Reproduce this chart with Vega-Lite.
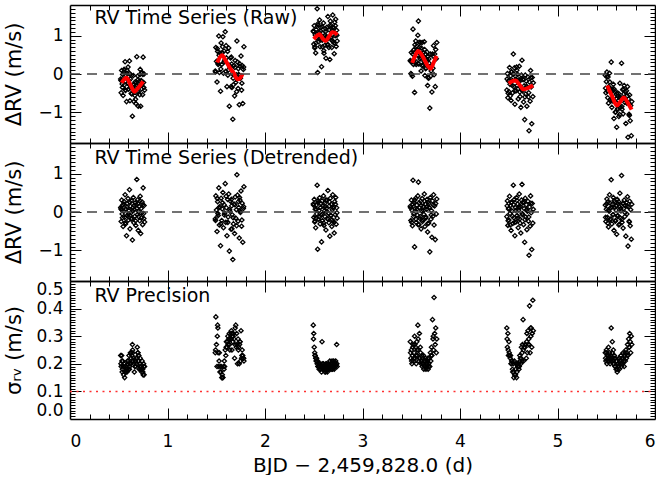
{
"$schema":"https://vega.github.io/schema/vega-lite/v6.json",
"usermeta":{"embedOptions":{"actions":false}},
"padding":{"left":3,"top":4,"right":0,"bottom":0},
"spacing":0,
"bounds":"flush",
"config":{"view":{"stroke":null},"font":"DejaVu Sans","axis":{"grid":false,"domainColor":"black","domainWidth":1.5,"tickColor":"black","tickWidth":1,"labelColor":"black","labelFont":"DejaVu Sans","labelFontSize":17,"titleFont":"DejaVu Sans","titleFontSize":21,"titleFontWeight":"normal","titleColor":"black","labelOverlap":false,"labelBound":false}},
"datasets":{
"obs":[
{"t":0.520,"r":-0.13,"d":0.12,"s":0.23},{"t":0.525,"r":-0.49,"d":-0.25,"s":0.19},{"t":0.530,"r":0.09,"d":0.31,"s":0.23},{"t":0.535,"r":-0.26,"d":-0.05,"s":0.17},{"t":0.540,"r":-0.01,"d":0.18,"s":0.21},{"t":0.545,"r":-0.56,"d":-0.38,"s":0.19},{"t":0.550,"r":-0.14,"d":0.02,"s":0.16},{"t":0.555,"r":0.12,"d":0.27,"s":0.20},{"t":0.560,"r":-0.28,"d":-0.14,"s":0.15},{"t":0.565,"r":0.32,"d":0.45,"s":0.17},
{"t":0.570,"r":-0.43,"d":-0.31,"s":0.19},{"t":0.575,"r":-0.03,"d":0.08,"s":0.17},{"t":0.580,"r":-0.72,"d":-0.62,"s":0.18},{"t":0.585,"r":0.10,"d":0.22,"s":0.17},{"t":0.590,"r":-0.24,"d":-0.09,"s":0.21},{"t":0.595,"r":0.18,"d":0.35,"s":0.20},{"t":0.600,"r":-0.40,"d":-0.21,"s":0.18},{"t":0.605,"r":-0.17,"d":0.04,"s":0.23},{"t":0.610,"r":0.34,"d":0.58,"s":0.18},{"t":0.615,"r":-0.70,"d":-0.44,"s":0.20},
{"t":0.620,"r":-0.13,"d":0.15,"s":0.24},{"t":0.625,"r":-0.32,"d":-0.02,"s":0.20},{"t":0.630,"r":-0.04,"d":0.29,"s":0.24},{"t":0.635,"r":-0.52,"d":-0.17,"s":0.23},{"t":0.640,"r":-1.10,"d":-0.73,"s":0.27},{"t":0.645,"r":-0.28,"d":0.11,"s":0.24},{"t":0.650,"r":-0.04,"d":0.38,"s":0.21},{"t":0.655,"r":-0.72,"d":-0.28,"s":0.22},{"t":0.660,"r":-0.40,"d":0.06,"s":0.17},{"t":0.665,"r":-0.56,"d":-0.11,"s":0.19},
{"t":0.670,"r":-0.20,"d":0.24,"s":0.21},{"t":0.675,"r":-0.77,"d":-0.35,"s":0.19},{"t":0.680,"r":-0.22,"d":0.19,"s":0.22},{"t":0.685,"r":0.45,"d":0.85,"s":0.20},{"t":0.690,"r":-0.46,"d":-0.07,"s":0.26},{"t":0.695,"r":-0.05,"d":0.32,"s":0.24},{"t":0.700,"r":-0.84,"d":-0.48,"s":0.21},{"t":0.705,"r":-0.33,"d":0.01,"s":0.23},{"t":0.710,"r":-0.19,"d":0.14,"s":0.18},{"t":0.715,"r":-0.54,"d":-0.23,"s":0.20},
{"t":0.720,"r":0.12,"d":0.41,"s":0.22},{"t":0.725,"r":-0.84,"d":-0.56,"s":0.18},{"t":0.730,"r":-0.17,"d":0.09,"s":0.19},{"t":0.735,"r":-0.39,"d":-0.15,"s":0.17},{"t":0.740,"r":0.04,"d":0.26,"s":0.21},{"t":0.745,"r":-0.54,"d":-0.33,"s":0.18},{"t":0.750,"r":0.44,"d":0.63,"s":0.16},{"t":0.755,"r":-0.22,"d":-0.04,"s":0.20},{"t":0.760,"r":0.00,"d":0.17,"s":0.16},{"t":0.765,"r":-0.42,"d":-0.26,"s":0.19},
{"t":0.5225,"r":-0.17,"d":0.08,"s":0.20},{"t":0.5375,"r":-0.35,"d":-0.15,"s":0.18},{"t":0.5525,"r":0.06,"d":0.21,"s":0.19},{"t":0.5675,"r":-0.41,"d":-0.28,"s":0.17},{"t":0.5825,"r":0.02,"d":0.13,"s":0.18},{"t":0.5975,"r":-0.24,"d":-0.06,"s":0.21},{"t":0.6125,"r":0.01,"d":0.26,"s":0.19},{"t":0.6275,"r":-0.51,"d":-0.19,"s":0.22},{"t":0.6425,"r":-0.35,"d":0.03,"s":0.25},{"t":0.6575,"r":-0.28,"d":0.17,"s":0.20},
{"t":0.6725,"r":-0.66,"d":-0.23,"s":0.21},{"t":0.6875,"r":-0.30,"d":0.10,"s":0.22},{"t":0.7025,"r":-0.47,"d":-0.12,"s":0.23},{"t":0.7175,"r":-0.01,"d":0.29,"s":0.19},{"t":0.7325,"r":-0.28,"d":-0.03,"s":0.18},{"t":0.7475,"r":-0.01,"d":0.19,"s":0.17},{"t":0.7575,"r":-0.35,"d":-0.17,"s":0.19},{"t":0.5325,"r":-0.17,"d":0.05,"s":0.21},{"t":0.6175,"r":-0.36,"d":-0.09,"s":0.20},{"t":0.6975,"r":-0.15,"d":0.22,"s":0.24},
{"t":1.490,"r":0.08,"d":-0.18,"s":0.24},{"t":1.496,"r":0.69,"d":0.42,"s":0.37},{"t":1.502,"r":0.33,"d":0.05,"s":0.27},{"t":1.508,"r":-0.21,"d":-0.51,"s":0.19},{"t":1.514,"r":0.59,"d":0.27,"s":0.34},{"t":1.520,"r":0.25,"d":-0.09,"s":0.24},{"t":1.526,"r":0.99,"d":0.63,"s":0.19},{"t":1.532,"r":0.04,"d":-0.34,"s":0.24},{"t":1.538,"r":0.55,"d":0.14,"s":0.17},{"t":1.544,"r":-0.45,"d":-0.88,"s":0.19},
{"t":1.550,"r":0.81,"d":0.36,"s":0.19},{"t":1.556,"r":0.25,"d":-0.22,"s":0.15},{"t":1.562,"r":0.56,"d":0.08,"s":0.16},{"t":1.568,"r":0.97,"d":0.51,"s":0.15},{"t":1.574,"r":0.02,"d":-0.41,"s":0.19},{"t":1.580,"r":0.60,"d":0.19,"s":0.18},{"t":1.586,"r":0.36,"d":-0.03,"s":0.19},{"t":1.592,"r":1.10,"d":0.74,"s":0.25},{"t":1.598,"r":0.07,"d":-0.27,"s":0.23},{"t":1.604,"r":0.42,"d":0.11,"s":0.28},
{"t":1.610,"r":-0.33,"d":-0.62,"s":0.26},{"t":1.616,"r":0.59,"d":0.33,"s":0.28},{"t":1.622,"r":0.10,"d":-0.13,"s":0.27},{"t":1.628,"r":0.68,"d":0.47,"s":0.29},{"t":1.634,"r":-0.84,"d":-1.02,"s":0.31},{"t":1.640,"r":0.18,"d":0.02,"s":0.25},{"t":1.646,"r":0.42,"d":0.28,"s":0.29},{"t":1.652,"r":-0.33,"d":-0.45,"s":0.29},{"t":1.658,"r":0.26,"d":0.16,"s":0.31},{"t":1.664,"r":0.01,"d":-0.07,"s":0.30},
{"t":1.670,"r":-1.18,"d":-1.24,"s":0.28},{"t":1.676,"r":-0.28,"d":-0.31,"s":0.31},{"t":1.682,"r":0.22,"d":0.21,"s":0.29},{"t":1.688,"r":-0.57,"d":-0.56,"s":0.22},{"t":1.694,"r":0.35,"d":0.39,"s":0.33},{"t":1.700,"r":-0.22,"d":-0.16,"s":0.34},{"t":1.706,"r":-0.02,"d":0.06,"s":0.26},{"t":1.712,"r":0.86,"d":0.97,"s":0.27},{"t":1.718,"r":0.31,"d":0.44,"s":0.20},{"t":1.724,"r":-0.38,"d":-0.24,"s":0.29},
{"t":1.730,"r":-0.01,"d":0.12,"s":0.26},{"t":1.736,"r":-0.80,"d":-0.68,"s":0.20},{"t":1.742,"r":0.20,"d":0.31,"s":0.28},{"t":1.748,"r":-0.11,"d":-0.01,"s":0.21},{"t":1.754,"r":0.47,"d":0.55,"s":0.32},{"t":1.760,"r":-0.42,"d":-0.37,"s":0.22},{"t":1.766,"r":0.22,"d":0.23,"s":0.25},{"t":1.772,"r":-0.77,"d":-0.79,"s":0.23},{"t":1.778,"r":0.12,"d":0.09,"s":0.22},{"t":1.784,"r":0.71,"d":0.66,"s":0.21},
{"t":1.493,"r":0.05,"d":-0.22,"s":0.25},{"t":1.511,"r":0.66,"d":0.35,"s":0.30},{"t":1.529,"r":0.49,"d":0.12,"s":0.21},{"t":1.547,"r":0.13,"d":-0.31,"s":0.17},{"t":1.565,"r":0.71,"d":0.24,"s":0.15},{"t":1.583,"r":0.32,"d":-0.08,"s":0.21},{"t":1.601,"r":0.74,"d":0.41,"s":0.26},{"t":1.619,"r":-0.03,"d":-0.27,"s":0.30},{"t":1.637,"r":0.23,"d":0.06,"s":0.27},{"t":1.655,"r":0.44,"d":0.33,"s":0.32},
{"t":1.673,"r":-0.11,"d":-0.15,"s":0.30},{"t":1.691,"r":0.17,"d":0.19,"s":0.27},{"t":1.709,"r":-0.46,"d":-0.36,"s":0.31},{"t":1.727,"r":0.14,"d":0.27,"s":0.25},{"t":1.745,"r":-0.09,"d":0.02,"s":0.28},{"t":1.763,"r":-0.24,"d":-0.21,"s":0.23},{"t":1.781,"r":0.18,"d":0.14,"s":0.22},{"t":1.517,"r":0.29,"d":-0.04,"s":0.33},{"t":1.661,"r":-0.35,"d":-0.44,"s":0.25},{"t":1.739,"r":0.27,"d":0.38,"s":0.27},
{"t":2.495,"r":1.12,"d":0.21,"s":0.34},{"t":2.500,"r":0.78,"d":-0.14,"s":0.31},{"t":2.505,"r":1.26,"d":0.33,"s":0.26},{"t":2.510,"r":0.68,"d":-0.26,"s":0.24},{"t":2.515,"r":1.02,"d":0.07,"s":0.23},{"t":2.520,"r":0.55,"d":-0.41,"s":0.22},{"t":2.525,"r":1.16,"d":0.18,"s":0.21},{"t":2.530,"r":0.94,"d":-0.05,"s":0.22},{"t":2.535,"r":1.70,"d":0.70,"s":0.20},{"t":2.540,"r":0.04,"d":-0.97,"s":0.21},
{"t":2.545,"r":1.27,"d":0.25,"s":0.19},{"t":2.550,"r":0.84,"d":-0.19,"s":0.20},{"t":2.555,"r":1.08,"d":0.04,"s":0.18},{"t":2.560,"r":1.41,"d":0.37,"s":0.19},{"t":2.565,"r":0.71,"d":-0.31,"s":0.20},{"t":2.570,"r":1.12,"d":0.12,"s":0.18},{"t":2.575,"r":0.90,"d":-0.08,"s":0.19},{"t":2.580,"r":0.19,"d":-0.78,"s":0.17},{"t":2.585,"r":1.24,"d":0.29,"s":0.28},{"t":2.590,"r":0.71,"d":-0.22,"s":0.19},
{"t":2.595,"r":1.07,"d":0.15,"s":0.18},{"t":2.600,"r":1.33,"d":0.42,"s":0.20},{"t":2.605,"r":0.54,"d":-0.35,"s":0.18},{"t":2.610,"r":0.91,"d":0.03,"s":0.19},{"t":2.615,"r":0.75,"d":-0.12,"s":0.17},{"t":2.620,"r":1.10,"d":0.24,"s":0.18},{"t":2.625,"r":0.41,"d":-0.47,"s":0.20},{"t":2.630,"r":0.98,"d":0.09,"s":0.19},{"t":2.635,"r":1.22,"d":0.31,"s":0.18},{"t":2.640,"r":0.76,"d":-0.17,"s":0.17},
{"t":2.645,"r":1.50,"d":0.56,"s":0.19},{"t":2.650,"r":0.93,"d":-0.03,"s":0.20},{"t":2.655,"r":0.69,"d":-0.28,"s":0.18},{"t":2.660,"r":1.15,"d":0.16,"s":0.19},{"t":2.665,"r":0.38,"d":-0.63,"s":0.21},{"t":2.670,"r":1.38,"d":0.36,"s":0.18},{"t":2.675,"r":0.94,"d":-0.10,"s":0.19},{"t":2.680,"r":1.26,"d":0.20,"s":0.20},{"t":2.685,"r":0.69,"d":-0.38,"s":0.18},{"t":2.690,"r":1.15,"d":0.06,"s":0.19},
{"t":2.695,"r":1.54,"d":0.45,"s":0.20},{"t":2.700,"r":0.85,"d":-0.24,"s":0.19},{"t":2.705,"r":1.21,"d":0.13,"s":0.21},{"t":2.710,"r":0.53,"d":-0.55,"s":0.18},{"t":2.715,"r":1.35,"d":0.27,"s":0.20},{"t":2.720,"r":1.00,"d":-0.07,"s":0.19},{"t":2.725,"r":1.43,"d":0.38,"s":0.21},{"t":2.730,"r":0.72,"d":-0.32,"s":0.20},{"t":2.735,"r":1.14,"d":0.11,"s":0.27},{"t":2.740,"r":0.86,"d":-0.16,"s":0.19},
{"t":2.4975,"r":1.10,"d":0.18,"s":0.29},{"t":2.5125,"r":0.71,"d":-0.24,"s":0.23},{"t":2.5275,"r":1.06,"d":0.07,"s":0.21},{"t":2.5425,"r":1.31,"d":0.29,"s":0.19},{"t":2.5575,"r":0.91,"d":-0.13,"s":0.20},{"t":2.5725,"r":1.21,"d":0.22,"s":0.18},{"t":2.5875,"r":0.88,"d":-0.06,"s":0.20},{"t":2.6025,"r":0.61,"d":-0.29,"s":0.19},{"t":2.6175,"r":1.01,"d":0.14,"s":0.18},{"t":2.6325,"r":0.91,"d":0.01,"s":0.20},
{"t":2.6475,"r":0.76,"d":-0.19,"s":0.18},{"t":2.6625,"r":1.26,"d":0.26,"s":0.19},{"t":2.6775,"r":0.96,"d":-0.09,"s":0.20},{"t":2.6925,"r":1.21,"d":0.12,"s":0.18},{"t":2.7075,"r":0.81,"d":-0.27,"s":0.20},{"t":2.7225,"r":1.26,"d":0.20,"s":0.19},{"t":2.7375,"r":1.01,"d":-0.02,"s":0.20},{"t":2.5225,"r":0.81,"d":-0.16,"s":0.22},{"t":2.6225,"r":1.18,"d":0.31,"s":0.17},{"t":2.6875,"r":0.87,"d":-0.21,"s":0.21},
{"t":3.490,"r":0.35,"d":0.15,"s":0.28},{"t":3.496,"r":0.01,"d":-0.22,"s":0.22},{"t":3.501,"r":0.56,"d":0.31,"s":0.25},{"t":3.507,"r":0.33,"d":0.05,"s":0.20},{"t":3.512,"r":-0.06,"d":-0.36,"s":0.23},{"t":3.518,"r":1.17,"d":0.83,"s":0.27},{"t":3.523,"r":0.25,"d":-0.12,"s":0.21},{"t":3.529,"r":0.64,"d":0.24,"s":0.24},{"t":3.534,"r":-0.48,"d":-0.91,"s":0.30},{"t":3.540,"r":0.56,"d":0.09,"s":0.22},
{"t":3.546,"r":0.86,"d":0.36,"s":0.26},{"t":3.551,"r":0.25,"d":-0.27,"s":0.20},{"t":3.557,"r":0.73,"d":0.18,"s":0.28},{"t":3.562,"r":0.49,"d":-0.08,"s":0.23},{"t":3.568,"r":1.01,"d":0.42,"s":0.34},{"t":3.573,"r":1.38,"d":0.78,"s":0.25},{"t":3.579,"r":0.26,"d":-0.33,"s":0.21},{"t":3.584,"r":0.69,"d":0.11,"s":0.31},{"t":3.590,"r":0.39,"d":-0.17,"s":0.22},{"t":3.596,"r":0.82,"d":0.28,"s":0.24},
{"t":3.601,"r":0.08,"d":-0.44,"s":0.20},{"t":3.607,"r":0.52,"d":0.03,"s":0.23},{"t":3.612,"r":0.82,"d":0.35,"s":0.19},{"t":3.618,"r":0.24,"d":-0.21,"s":0.22},{"t":3.623,"r":0.56,"d":0.14,"s":0.20},{"t":3.629,"r":0.34,"d":-0.06,"s":0.18},{"t":3.634,"r":0.84,"d":0.47,"s":0.21},{"t":3.640,"r":-0.04,"d":-0.38,"s":0.19},{"t":3.646,"r":0.52,"d":0.21,"s":0.22},{"t":3.651,"r":0.16,"d":-0.13,"s":0.18},
{"t":3.657,"r":0.33,"d":0.07,"s":0.20},{"t":3.662,"r":0.57,"d":0.33,"s":0.19},{"t":3.668,"r":-0.30,"d":-0.52,"s":0.21},{"t":3.673,"r":0.46,"d":0.26,"s":0.18},{"t":3.679,"r":-0.11,"d":-0.29,"s":0.20},{"t":3.684,"r":0.28,"d":0.12,"s":0.22},{"t":3.690,"r":-0.89,"d":-1.04,"s":0.19},{"t":3.696,"r":0.52,"d":0.38,"s":0.24},{"t":3.701,"r":-0.05,"d":-0.19,"s":0.21},{"t":3.707,"r":0.21,"d":0.04,"s":0.26},
{"t":3.712,"r":-0.47,"d":-0.66,"s":0.23},{"t":3.718,"r":0.52,"d":0.29,"s":0.36},{"t":3.723,"r":0.15,"d":-0.11,"s":0.29},{"t":3.729,"r":0.74,"d":0.45,"s":0.25},{"t":3.734,"r":-0.02,"d":-0.34,"s":0.44},{"t":3.740,"r":0.52,"d":0.16,"s":0.31},{"t":3.746,"r":-0.33,"d":-0.72,"s":0.27},{"t":3.751,"r":0.64,"d":0.22,"s":0.33},{"t":3.757,"r":0.40,"d":-0.05,"s":0.24},{"t":3.762,"r":0.82,"d":0.34,"s":0.29},
{"t":3.493,"r":0.33,"d":0.11,"s":0.24},{"t":3.504,"r":-0.01,"d":-0.27,"s":0.21},{"t":3.515,"r":0.52,"d":0.20,"s":0.26},{"t":3.526,"r":0.34,"d":-0.05,"s":0.22},{"t":3.537,"r":0.76,"d":0.31,"s":0.27},{"t":3.549,"r":0.32,"d":-0.19,"s":0.23},{"t":3.560,"r":0.64,"d":0.08,"s":0.25},{"t":3.571,"r":0.27,"d":-0.33,"s":0.29},{"t":3.582,"r":0.83,"d":0.24,"s":0.22},{"t":3.593,"r":0.43,"d":-0.12,"s":0.26},
{"t":3.604,"r":0.68,"d":0.17,"s":0.21},{"t":3.615,"r":0.21,"d":-0.25,"s":0.20},{"t":3.626,"r":0.45,"d":0.04,"s":0.23},{"t":3.637,"r":0.64,"d":0.28,"s":0.19},{"t":3.648,"r":0.14,"d":-0.16,"s":0.21},{"t":3.659,"r":0.38,"d":0.13,"s":0.20},{"t":3.670,"r":-0.09,"d":-0.30,"s":0.22},{"t":3.681,"r":0.39,"d":0.22,"s":0.19},{"t":3.704,"r":0.08,"d":-0.08,"s":0.23},{"t":3.726,"r":0.46,"d":0.18,"s":0.30},
{"t":4.480,"r":-0.42,"d":-0.12,"s":0.33},{"t":4.486,"r":0.01,"d":0.29,"s":0.26},{"t":4.491,"r":-0.62,"d":-0.35,"s":0.31},{"t":4.497,"r":-0.18,"d":0.08,"s":0.23},{"t":4.502,"r":-0.46,"d":-0.21,"s":0.28},{"t":4.508,"r":0.17,"d":0.41,"s":0.23},{"t":4.513,"r":-0.27,"d":-0.04,"s":0.23},{"t":4.519,"r":-0.05,"d":0.17,"s":0.23},{"t":4.524,"r":-0.69,"d":-0.48,"s":0.20},{"t":4.530,"r":0.06,"d":0.26,"s":0.21},
{"t":4.536,"r":-0.17,"d":0.02,"s":0.21},{"t":4.541,"r":-0.49,"d":-0.30,"s":0.17},{"t":4.547,"r":0.52,"d":0.70,"s":0.20},{"t":4.552,"r":-0.33,"d":-0.15,"s":0.15},{"t":4.558,"r":0.16,"d":0.33,"s":0.21},{"t":4.563,"r":-0.79,"d":-0.62,"s":0.16},{"t":4.569,"r":-0.06,"d":0.11,"s":0.16},{"t":4.574,"r":-0.44,"d":-0.26,"s":0.20},{"t":4.580,"r":0.18,"d":0.38,"s":0.15},{"t":4.586,"r":-0.30,"d":-0.09,"s":0.20},
{"t":4.591,"r":-0.01,"d":0.21,"s":0.20},{"t":4.597,"r":-0.65,"d":-0.41,"s":0.19},{"t":4.602,"r":-0.21,"d":0.05,"s":0.20},{"t":4.608,"r":0.20,"d":0.47,"s":0.19},{"t":4.613,"r":-0.47,"d":-0.18,"s":0.23},{"t":4.619,"r":-0.17,"d":0.14,"s":0.22},{"t":4.624,"r":-0.87,"d":-0.55,"s":0.20},{"t":4.630,"r":-0.03,"d":0.31,"s":0.26},{"t":4.636,"r":0.36,"d":0.72,"s":0.21},{"t":4.641,"r":-0.44,"d":-0.07,"s":0.27},
{"t":4.647,"r":-0.15,"d":0.24,"s":0.36},{"t":4.652,"r":-0.73,"d":-0.33,"s":0.21},{"t":4.658,"r":-0.31,"d":0.09,"s":0.26},{"t":4.663,"r":-1.19,"d":-0.79,"s":0.26},{"t":4.669,"r":-0.03,"d":0.36,"s":0.27},{"t":4.674,"r":-0.52,"d":-0.13,"s":0.27},{"t":4.680,"r":-0.19,"d":0.19,"s":0.22},{"t":4.686,"r":-0.84,"d":-0.46,"s":0.31},{"t":4.691,"r":-0.35,"d":0.02,"s":0.24},{"t":4.697,"r":-0.08,"d":0.28,"s":0.32},
{"t":4.702,"r":-0.60,"d":-0.24,"s":0.27},{"t":4.708,"r":-1.48,"d":-1.13,"s":0.27},{"t":4.713,"r":-0.21,"d":0.13,"s":0.41},{"t":4.719,"r":-0.71,"d":-0.37,"s":0.24},{"t":4.724,"r":0.09,"d":0.42,"s":0.33},{"t":4.730,"r":-0.34,"d":-0.02,"s":0.33},{"t":4.736,"r":-1.30,"d":-0.98,"s":0.26},{"t":4.741,"r":-0.09,"d":0.22,"s":0.31},{"t":4.747,"r":-0.59,"d":-0.29,"s":0.43},{"t":4.752,"r":-0.23,"d":0.07,"s":0.32},
{"t":4.483,"r":-0.13,"d":0.16,"s":0.29},{"t":4.494,"r":-0.50,"d":-0.23,"s":0.25},{"t":4.505,"r":-0.16,"d":0.09,"s":0.24},{"t":4.516,"r":-0.57,"d":-0.34,"s":0.22},{"t":4.527,"r":0.05,"d":0.25,"s":0.20},{"t":4.538,"r":-0.30,"d":-0.11,"s":0.18},{"t":4.549,"r":0.01,"d":0.19,"s":0.17},{"t":4.560,"r":-0.44,"d":-0.27,"s":0.16},{"t":4.571,"r":-0.14,"d":0.04,"s":0.18},{"t":4.583,"r":0.10,"d":0.30,"s":0.17},
{"t":4.594,"r":-0.39,"d":-0.16,"s":0.19},{"t":4.605,"r":-0.15,"d":0.12,"s":0.18},{"t":4.616,"r":-0.59,"d":-0.29,"s":0.21},{"t":4.627,"r":-0.12,"d":0.21,"s":0.22},{"t":4.638,"r":-0.41,"d":-0.04,"s":0.24},{"t":4.650,"r":-0.13,"d":0.27,"s":0.25},{"t":4.666,"r":-0.60,"d":-0.20,"s":0.26},{"t":4.683,"r":-0.32,"d":0.06,"s":0.28},{"t":4.705,"r":-0.49,"d":-0.13,"s":0.29},{"t":4.727,"r":-0.10,"d":0.23,"s":0.30},
{"t":5.490,"r":-0.03,"d":0.18,"s":0.24},{"t":5.496,"r":-0.49,"d":-0.25,"s":0.21},{"t":5.501,"r":-0.20,"d":0.07,"s":0.25},{"t":5.507,"r":0.05,"d":0.34,"s":0.20},{"t":5.512,"r":-0.45,"d":-0.14,"s":0.23},{"t":5.518,"r":-0.08,"d":0.26,"s":0.22},{"t":5.523,"r":-0.76,"d":-0.39,"s":0.26},{"t":5.529,"r":-0.38,"d":0.02,"s":0.21},{"t":5.534,"r":0.02,"d":0.45,"s":0.24},{"t":5.540,"r":-0.67,"d":-0.20,"s":0.20},
{"t":5.546,"r":-0.39,"d":0.11,"s":0.23},{"t":5.551,"r":0.31,"d":0.84,"s":0.33},{"t":5.557,"r":-0.87,"d":-0.31,"s":0.22},{"t":5.562,"r":-0.40,"d":0.19,"s":0.28},{"t":5.568,"r":-0.69,"d":-0.07,"s":0.21},{"t":5.573,"r":-0.27,"d":0.38,"s":0.25},{"t":5.579,"r":-1.16,"d":-0.48,"s":0.20},{"t":5.584,"r":-0.59,"d":0.12,"s":0.23},{"t":5.590,"r":-0.47,"d":0.27,"s":0.19},{"t":5.596,"r":-0.99,"d":-0.22,"s":0.22},
{"t":5.601,"r":-0.74,"d":0.05,"s":0.18},{"t":5.607,"r":-1.39,"d":-0.58,"s":0.21},{"t":5.612,"r":-0.49,"d":0.33,"s":0.17},{"t":5.618,"r":-0.90,"d":-0.09,"s":0.20},{"t":5.623,"r":-0.58,"d":0.21,"s":0.19},{"t":5.629,"r":-1.11,"d":-0.34,"s":0.22},{"t":5.634,"r":-0.61,"d":0.14,"s":0.18},{"t":5.640,"r":-0.24,"d":0.49,"s":0.21},{"t":5.646,"r":-0.87,"d":-0.16,"s":0.20},{"t":5.651,"r":-0.66,"d":0.03,"s":0.23},
{"t":5.657,"r":0.28,"d":0.95,"s":0.19},{"t":5.662,"r":-0.92,"d":-0.27,"s":0.22},{"t":5.668,"r":-0.41,"d":0.22,"s":0.20},{"t":5.673,"r":-1.04,"d":-0.42,"s":0.24},{"t":5.679,"r":-0.52,"d":0.09,"s":0.21},{"t":5.684,"r":-0.30,"d":0.31,"s":0.19},{"t":5.690,"r":-0.74,"d":-0.12,"s":0.23},{"t":5.696,"r":-0.47,"d":0.17,"s":0.21},{"t":5.701,"r":-1.29,"d":-0.63,"s":0.25},{"t":5.707,"r":-0.44,"d":0.25,"s":0.22},
{"t":5.712,"r":-0.76,"d":-0.05,"s":0.24},{"t":5.718,"r":-0.33,"d":0.40,"s":0.27},{"t":5.723,"r":-1.65,"d":-0.89,"s":0.23},{"t":5.729,"r":-0.65,"d":0.13,"s":0.29},{"t":5.734,"r":-1.05,"d":-0.24,"s":0.26},{"t":5.740,"r":-0.55,"d":0.28,"s":0.31},{"t":5.746,"r":-1.22,"d":-0.36,"s":0.28},{"t":5.751,"r":-0.82,"d":0.06,"s":0.24},{"t":5.757,"r":-1.61,"d":-0.71,"s":0.30},{"t":5.762,"r":-0.72,"d":0.20,"s":0.27},
{"t":5.493,"r":-0.37,"d":-0.14,"s":0.22},{"t":5.504,"r":-0.07,"d":0.21,"s":0.24},{"t":5.515,"r":-0.62,"d":-0.29,"s":0.21},{"t":5.526,"r":-0.33,"d":0.06,"s":0.23},{"t":5.537,"r":-0.21,"d":0.24,"s":0.22},{"t":5.549,"r":-0.70,"d":-0.18,"s":0.21},{"t":5.560,"r":-0.45,"d":0.13,"s":0.24},{"t":5.571,"r":-0.71,"d":-0.07,"s":0.20},{"t":5.582,"r":-0.40,"d":0.30,"s":0.22},{"t":5.593,"r":-1.00,"d":-0.24,"s":0.19},
{"t":5.604,"r":-0.64,"d":0.16,"s":0.21},{"t":5.615,"r":-0.93,"d":-0.11,"s":0.18},{"t":5.626,"r":-0.51,"d":0.27,"s":0.20},{"t":5.637,"r":-1.06,"d":-0.32,"s":0.22},{"t":5.648,"r":-0.61,"d":0.09,"s":0.21},{"t":5.660,"r":-0.85,"d":-0.19,"s":0.20},{"t":5.676,"r":-0.39,"d":0.23,"s":0.22},{"t":5.693,"r":-0.65,"d":-0.02,"s":0.24},{"t":5.715,"r":-0.57,"d":0.15,"s":0.23},{"t":5.737,"r":-1.08,"d":-0.26,"s":0.26}
],
"trend":[
{"c":1,"t":0.53,"v":-0.23},{"c":1,"t":0.555,"v":-0.14},{"c":1,"t":0.58,"v":-0.10},{"c":1,"t":0.62,"v":-0.28},{"c":1,"t":0.66,"v":-0.46},{"c":1,"t":0.70,"v":-0.36},{"c":1,"t":0.75,"v":-0.19},
{"c":2,"t":1.51,"v":0.30},{"c":2,"t":1.56,"v":0.49},{"c":2,"t":1.60,"v":0.33},{"c":2,"t":1.635,"v":0.18},{"c":2,"t":1.68,"v":0.02},{"c":2,"t":1.72,"v":-0.14},{"c":2,"t":1.75,"v":-0.09},{"c":2,"t":1.77,"v":0.01},
{"c":3,"t":2.50,"v":0.91},{"c":3,"t":2.53,"v":0.99},{"c":3,"t":2.56,"v":1.04},{"c":3,"t":2.59,"v":0.93},{"c":3,"t":2.62,"v":0.86},{"c":3,"t":2.655,"v":0.97},{"c":3,"t":2.69,"v":1.09},{"c":3,"t":2.715,"v":1.08},{"c":3,"t":2.74,"v":1.02},
{"c":4,"t":3.51,"v":0.29},{"c":4,"t":3.54,"v":0.47},{"c":4,"t":3.57,"v":0.60},{"c":4,"t":3.60,"v":0.53},{"c":4,"t":3.635,"v":0.37},{"c":4,"t":3.67,"v":0.21},{"c":4,"t":3.70,"v":0.14},{"c":4,"t":3.73,"v":0.30},{"c":4,"t":3.76,"v":0.47},
{"c":5,"t":4.50,"v":-0.25},{"c":5,"t":4.535,"v":-0.19},{"c":5,"t":4.57,"v":-0.17},{"c":5,"t":4.61,"v":-0.28},{"c":5,"t":4.65,"v":-0.40},{"c":5,"t":4.70,"v":-0.36},{"c":5,"t":4.75,"v":-0.30},
{"c":6,"t":5.51,"v":-0.30},{"c":6,"t":5.56,"v":-0.58},{"c":6,"t":5.61,"v":-0.82},{"c":6,"t":5.645,"v":-0.72},{"c":6,"t":5.68,"v":-0.61},{"c":6,"t":5.72,"v":-0.75},{"c":6,"t":5.76,"v":-0.93}
]
},
"vconcat":[
{"width":585,"height":138,
 "resolve":{"axis":{"x":"independent","y":"independent"}},
 "layer":[
  {"data":{"name":"obs"},"mark":{"type":"point","shape":"diamond","size":18,"filled":false,"color":"black","strokeWidth":1.3,"opacity":1},
   "encoding":{
    "x":{"field":"t","type":"quantitative","scale":{"domain":[0,6],"nice":false,"zero":false},"axis":{"orient":"bottom","values":[0,1,2,3,4,5,6],"ticks":false,"labels":false,"title":null,"minExtent":0,"maxExtent":0}},
    "y":{"field":"r","type":"quantitative","scale":{"domain":[-1.8,1.8],"nice":false,"zero":false},"axis":{"orient":"left","values":[-1,0,1],"ticks":false,"format":"d","labelPadding":7,"title":"ΔRV (m/s)","titlePadding":4,"minExtent":42,"maxExtent":42}}}},
  {"data":{"name":"trend"},"mark":{"type":"line","color":"#ff0000","strokeWidth":4,"interpolate":"monotone"},
   "encoding":{"x":{"field":"t","type":"quantitative","scale":{"domain":[0,6],"nice":false,"zero":false},"axis":null},"y":{"field":"v","type":"quantitative","scale":{"domain":[-1.8,1.8],"nice":false,"zero":false},"axis":null},"detail":{"field":"c"}}},
  {"data":{"values":[{}]},"mark":{"type":"rule","color":"#444444","strokeDash":[10,7],"strokeWidth":1.3},
   "encoding":{
    "x":{"datum":0,"type":"quantitative","scale":{"domain":[0,6],"nice":false,"zero":false},"axis":{"orient":"top","values":[0.2,0.4,0.6,0.8,1,1.2,1.4,1.6,1.8,2,2.2,2.4,2.6,2.8,3,3.2,3.4,3.6,3.8,4,4.2,4.4,4.6,4.8,5,5.2,5.4,5.6,5.8],"labels":false,"title":null,"minExtent":0,"maxExtent":0,"tickSize":{"condition":{"test":"abs(datum.value-round(datum.value))<0.001","value":-11},"value":-5}}},
    "x2":{"datum":6},
    "y":{"datum":0,"type":"quantitative","scale":{"domain":[-1.8,1.8],"nice":false,"zero":false},"axis":{"orient":"right","values":[-1.7,-1.6,-1.5,-1.4,-1.3,-1.2,-1.1,-1,-0.9,-0.8,-0.7,-0.6,-0.5,-0.4,-0.3,-0.2,-0.1,0,0.1,0.2,0.3,0.4,0.5,0.6,0.7,0.8,0.9,1,1.1,1.2,1.3,1.4,1.5,1.6,1.7],"labels":false,"title":null,"minExtent":0,"maxExtent":0,"tickSize":{"condition":{"test":"abs(datum.value-round(datum.value))<0.001","value":-11},"value":-5}}}}},
  {"data":{"values":[{}]},"mark":{"type":"text","align":"left","baseline":"alphabetic","fontSize":19,"font":"DejaVu Sans","color":"black"},
   "encoding":{
    "x":{"datum":0.25,"type":"quantitative","scale":{"domain":[0,6],"nice":false,"zero":false},"axis":{"orient":"bottom","values":[0.2,0.4,0.6,0.8,1,1.2,1.4,1.6,1.8,2,2.2,2.4,2.6,2.8,3,3.2,3.4,3.6,3.8,4,4.2,4.4,4.6,4.8,5,5.2,5.4,5.6,5.8],"labels":false,"domain":false,"title":null,"minExtent":0,"maxExtent":0,"tickSize":{"condition":{"test":"abs(datum.value-round(datum.value))<0.001","value":-11},"value":-5}}},
    "y":{"datum":1.3,"type":"quantitative","scale":{"domain":[-1.8,1.8],"nice":false,"zero":false},"axis":{"orient":"left","values":[-1.7,-1.6,-1.5,-1.4,-1.3,-1.2,-1.1,-1,-0.9,-0.8,-0.7,-0.6,-0.5,-0.4,-0.3,-0.2,-0.1,0,0.1,0.2,0.3,0.4,0.5,0.6,0.7,0.8,0.9,1,1.1,1.2,1.3,1.4,1.5,1.6,1.7],"labels":false,"domain":false,"title":null,"minExtent":0,"maxExtent":0,"tickSize":{"condition":{"test":"abs(datum.value-round(datum.value))<0.001","value":-11},"value":-5}}},
    "text":{"value":"RV Time Series (Raw)"}}}
 ]},
{"width":585,"height":138,
 "resolve":{"axis":{"x":"independent","y":"independent"}},
 "layer":[
  {"data":{"name":"obs"},"mark":{"type":"point","shape":"diamond","size":18,"filled":false,"color":"black","strokeWidth":1.3,"opacity":1},
   "encoding":{
    "x":{"field":"t","type":"quantitative","scale":{"domain":[0,6],"nice":false,"zero":false},"axis":{"orient":"bottom","values":[0,1,2,3,4,5,6],"ticks":false,"labels":false,"title":null,"minExtent":0,"maxExtent":0}},
    "y":{"field":"d","type":"quantitative","scale":{"domain":[-1.8,1.8],"nice":false,"zero":false},"axis":{"orient":"left","values":[-1,0,1],"ticks":false,"format":"d","labelPadding":7,"title":"ΔRV (m/s)","titlePadding":4,"minExtent":42,"maxExtent":42}}}},
  {"data":{"values":[{}]},"mark":{"type":"rule","color":"#444444","strokeDash":[10,7],"strokeWidth":1.3},
   "encoding":{
    "x":{"datum":0,"type":"quantitative","scale":{"domain":[0,6],"nice":false,"zero":false},"axis":{"orient":"top","values":[0.2,0.4,0.6,0.8,1,1.2,1.4,1.6,1.8,2,2.2,2.4,2.6,2.8,3,3.2,3.4,3.6,3.8,4,4.2,4.4,4.6,4.8,5,5.2,5.4,5.6,5.8],"labels":false,"title":null,"minExtent":0,"maxExtent":0,"tickSize":{"condition":{"test":"abs(datum.value-round(datum.value))<0.001","value":-11},"value":-5}}},
    "x2":{"datum":6},
    "y":{"datum":0,"type":"quantitative","scale":{"domain":[-1.8,1.8],"nice":false,"zero":false},"axis":{"orient":"right","values":[-1.7,-1.6,-1.5,-1.4,-1.3,-1.2,-1.1,-1,-0.9,-0.8,-0.7,-0.6,-0.5,-0.4,-0.3,-0.2,-0.1,0,0.1,0.2,0.3,0.4,0.5,0.6,0.7,0.8,0.9,1,1.1,1.2,1.3,1.4,1.5,1.6,1.7],"labels":false,"title":null,"minExtent":0,"maxExtent":0,"tickSize":{"condition":{"test":"abs(datum.value-round(datum.value))<0.001","value":-11},"value":-5}}}}},
  {"data":{"values":[{}]},"mark":{"type":"text","align":"left","baseline":"alphabetic","fontSize":19,"font":"DejaVu Sans","color":"black"},
   "encoding":{
    "x":{"datum":0.25,"type":"quantitative","scale":{"domain":[0,6],"nice":false,"zero":false},"axis":{"orient":"bottom","values":[0.2,0.4,0.6,0.8,1,1.2,1.4,1.6,1.8,2,2.2,2.4,2.6,2.8,3,3.2,3.4,3.6,3.8,4,4.2,4.4,4.6,4.8,5,5.2,5.4,5.6,5.8],"labels":false,"domain":false,"title":null,"minExtent":0,"maxExtent":0,"tickSize":{"condition":{"test":"abs(datum.value-round(datum.value))<0.001","value":-11},"value":-5}}},
    "y":{"datum":1.25,"type":"quantitative","scale":{"domain":[-1.8,1.8],"nice":false,"zero":false},"axis":{"orient":"left","values":[-1.7,-1.6,-1.5,-1.4,-1.3,-1.2,-1.1,-1,-0.9,-0.8,-0.7,-0.6,-0.5,-0.4,-0.3,-0.2,-0.1,0,0.1,0.2,0.3,0.4,0.5,0.6,0.7,0.8,0.9,1,1.1,1.2,1.3,1.4,1.5,1.6,1.7],"labels":false,"domain":false,"title":null,"minExtent":0,"maxExtent":0,"tickSize":{"condition":{"test":"abs(datum.value-round(datum.value))<0.001","value":-11},"value":-5}}},
    "text":{"value":"RV Time Series (Detrended)"}}}
 ]},
{"width":585,"height":138,
 "resolve":{"axis":{"x":"independent","y":"independent"}},
 "layer":[
  {"data":{"name":"obs"},"mark":{"type":"point","shape":"diamond","size":18,"filled":false,"color":"black","strokeWidth":1.3,"opacity":1},
   "encoding":{
    "x":{"field":"t","type":"quantitative","scale":{"domain":[0,6],"nice":false,"zero":false},"axis":{"orient":"bottom","values":[0,1,2,3,4,5,6],"ticks":false,"format":"d","labelPadding":14,"title":"BJD − 2,459,828.0 (d)","titleFontSize":20,"titlePadding":6}},
    "y":{"field":"s","type":"quantitative","scale":{"domain":[0,0.5],"nice":false,"zero":false},"axis":{"orient":"left","values":[0,0.1,0.2,0.3,0.4,0.5],"ticks":false,"format":".1f","labelFlush":true,"labelPadding":7,"title":"σᵣᵥ (m/s)","titlePadding":4,"minExtent":42,"maxExtent":42}}}},
  {"data":{"values":[{}]},"mark":{"type":"rule","color":"#ff3030","strokeDash":[2,4.5],"strokeWidth":1.5},
   "encoding":{
    "x":{"datum":0,"type":"quantitative","scale":{"domain":[0,6],"nice":false,"zero":false},"axis":{"orient":"top","values":[0.2,0.4,0.6,0.8,1,1.2,1.4,1.6,1.8,2,2.2,2.4,2.6,2.8,3,3.2,3.4,3.6,3.8,4,4.2,4.4,4.6,4.8,5,5.2,5.4,5.6,5.8],"labels":false,"title":null,"minExtent":0,"maxExtent":0,"tickSize":{"condition":{"test":"abs(datum.value-round(datum.value))<0.001","value":-11},"value":-5}}},
    "x2":{"datum":6},
    "y":{"datum":0.1,"type":"quantitative","scale":{"domain":[0,0.5],"nice":false,"zero":false},"axis":{"orient":"right","values":[0.01,0.02,0.03,0.04,0.05,0.06,0.07,0.08,0.09,0.1,0.11,0.12,0.13,0.14,0.15,0.16,0.17,0.18,0.19,0.2,0.21,0.22,0.23,0.24,0.25,0.26,0.27,0.28,0.29,0.3,0.31,0.32,0.33,0.34,0.35,0.36,0.37,0.38,0.39,0.4,0.41,0.42,0.43,0.44,0.45,0.46,0.47,0.48,0.49],"labels":false,"title":null,"minExtent":0,"maxExtent":0,"tickSize":{"condition":{"test":"abs(datum.value*10-round(datum.value*10))<0.001","value":-11},"value":-5}}}}},
  {"data":{"values":[{}]},"mark":{"type":"text","align":"left","baseline":"alphabetic","fontSize":19,"font":"DejaVu Sans","color":"black"},
   "encoding":{
    "x":{"datum":0.25,"type":"quantitative","scale":{"domain":[0,6],"nice":false,"zero":false},"axis":{"orient":"bottom","values":[0.2,0.4,0.6,0.8,1,1.2,1.4,1.6,1.8,2,2.2,2.4,2.6,2.8,3,3.2,3.4,3.6,3.8,4,4.2,4.4,4.6,4.8,5,5.2,5.4,5.6,5.8],"labels":false,"domain":false,"title":null,"minExtent":0,"maxExtent":0,"tickSize":{"condition":{"test":"abs(datum.value-round(datum.value))<0.001","value":-11},"value":-5}}},
    "y":{"datum":0.424,"type":"quantitative","scale":{"domain":[0,0.5],"nice":false,"zero":false},"axis":{"orient":"left","values":[0.01,0.02,0.03,0.04,0.05,0.06,0.07,0.08,0.09,0.1,0.11,0.12,0.13,0.14,0.15,0.16,0.17,0.18,0.19,0.2,0.21,0.22,0.23,0.24,0.25,0.26,0.27,0.28,0.29,0.3,0.31,0.32,0.33,0.34,0.35,0.36,0.37,0.38,0.39,0.4,0.41,0.42,0.43,0.44,0.45,0.46,0.47,0.48,0.49],"labels":false,"domain":false,"title":null,"minExtent":0,"maxExtent":0,"tickSize":{"condition":{"test":"abs(datum.value*10-round(datum.value*10))<0.001","value":-11},"value":-5}}},
    "text":{"value":"RV Precision"}}}
 ]}
]
}
